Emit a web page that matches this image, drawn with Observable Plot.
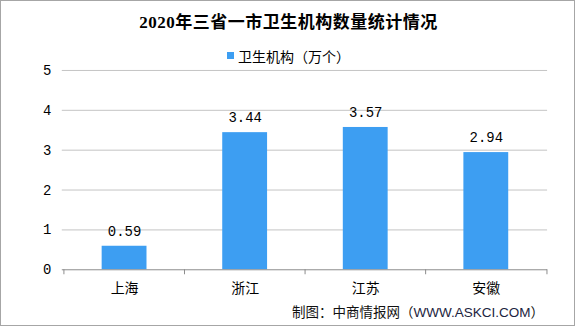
<!DOCTYPE html>
<html>
<head>
<meta charset="utf-8">
<script src="https://cdn.jsdelivr.net/npm/d3@7"></script>
<script src="https://cdn.jsdelivr.net/npm/@observablehq/plot@0.6"></script>
<style>
  html, body { margin: 0; padding: 0; background: #fff; }
  #wrap { position: relative; width: 575px; height: 326px; box-sizing: border-box; border: 1px solid #a6a6a6; overflow: hidden; background: #fff; }
  #title { position: absolute; left: 0; top: 10px; width: 575px; text-align: center; font-family: "Liberation Serif", "Noto Sans CJK SC", serif; font-weight: bold; font-size: 17px; letter-spacing: 0.5px; color: #000; line-height: 24px; }
  #legend { position: absolute; left: 0; top: 45px; width: 575px; text-align: center; font-family: "Noto Sans CJK SC", sans-serif; font-size: 14px; color: #000; line-height: 20px; }
  #legend .sw { display: inline-block; width: 7px; height: 7px; background: #3d9ef2; margin-right: 4px; vertical-align: 3px; }
  #chart { position: absolute; left: 0; top: 60px; }
  #caption { position: absolute; right: 30px; top: 300px; font-family: "Noto Sans CJK SC", sans-serif; font-size: 13.5px; color: #111; line-height: 20px; white-space: nowrap; }
  #caption .url { font-family: "Liberation Sans", sans-serif; color: #1c2440; }
</style>
</head>
<body>
<div id="wrap">
  <div id="title"></div>
  <div id="legend"></div>
  <div id="chart"></div>
  <div id="caption"></div>
</div>
<script>
const titleText = "2020年三省一市卫生机构数量统计情况";
const seriesName = "卫生机构（万个）";
const categories = ["上海", "浙江", "江苏", "安徽"];
const values = [0.59, 3.44, 3.57, 2.94];
const yTicks = [0, 1, 2, 3, 4, 5];
const captionPrefix = "制图：中商情报网（";
const captionUrl = "WWW.ASKCI.COM";
const captionSuffix = "）";

const barColor = "#3d9ef2";
const width = 575, height = 250;
const marginLeft = 61, marginRight = 27, marginTop = 9, marginBottom = 41;
const step = (width - marginLeft - marginRight) / categories.length;

document.getElementById("title").textContent = titleText;
document.getElementById("legend").innerHTML = '<span class="sw"></span>' + seriesName;
document.getElementById("caption").innerHTML = captionPrefix + '<span class="url">' + captionUrl + '</span>' + captionSuffix;

const data = categories.map((c, i) => ({category: c, value: values[i]}));
const monoFont = "Liberation Mono, DejaVu Sans Mono, monospace";

const plot = Plot.plot({
  width, height, marginLeft, marginRight, marginTop, marginBottom,
  style: {background: "transparent", overflow: "visible"},
  x: {domain: categories, paddingInner: 0.63, paddingOuter: 0.315, label: null},
  y: {domain: [0, 5], ticks: yTicks, label: null},
  marks: [
    Plot.ruleY(yTicks.filter(d => d > 0), {stroke: "#c4c4c4", strokeWidth: 1}),
    Plot.axisY(yTicks, {tickSize: 0, tickPadding: 11, fontSize: 14, fontFamily: monoFont, fill: "#000", label: null}),
    Plot.barY(data, {x: "category", y: "value", fill: barColor}),
    Plot.ruleY([0], {stroke: "#8c8c8c", strokeWidth: 1}),
    Plot.ruleX(categories, {x: d => d, y1: 0, y2: 0, dx: -step / 2, insetBottom: -5, stroke: "#8c8c8c"}),
    Plot.ruleX(categories.slice(-1), {x: d => d, y1: 0, y2: 0, dx: step / 2, insetBottom: -5, stroke: "#8c8c8c"}),
    Plot.axisX({tickSize: 0, tickPadding: 13, fontSize: 14, fontFamily: "Noto Sans CJK SC, sans-serif", fill: "#000", label: null}),
    Plot.text(data, {x: "category", y: "value", text: d => d.value.toFixed(2), dy: -15, fontSize: 14, fontFamily: monoFont, fill: "#000"})
  ]
});
document.getElementById("chart").appendChild(plot);
</script>
</body>
</html>
